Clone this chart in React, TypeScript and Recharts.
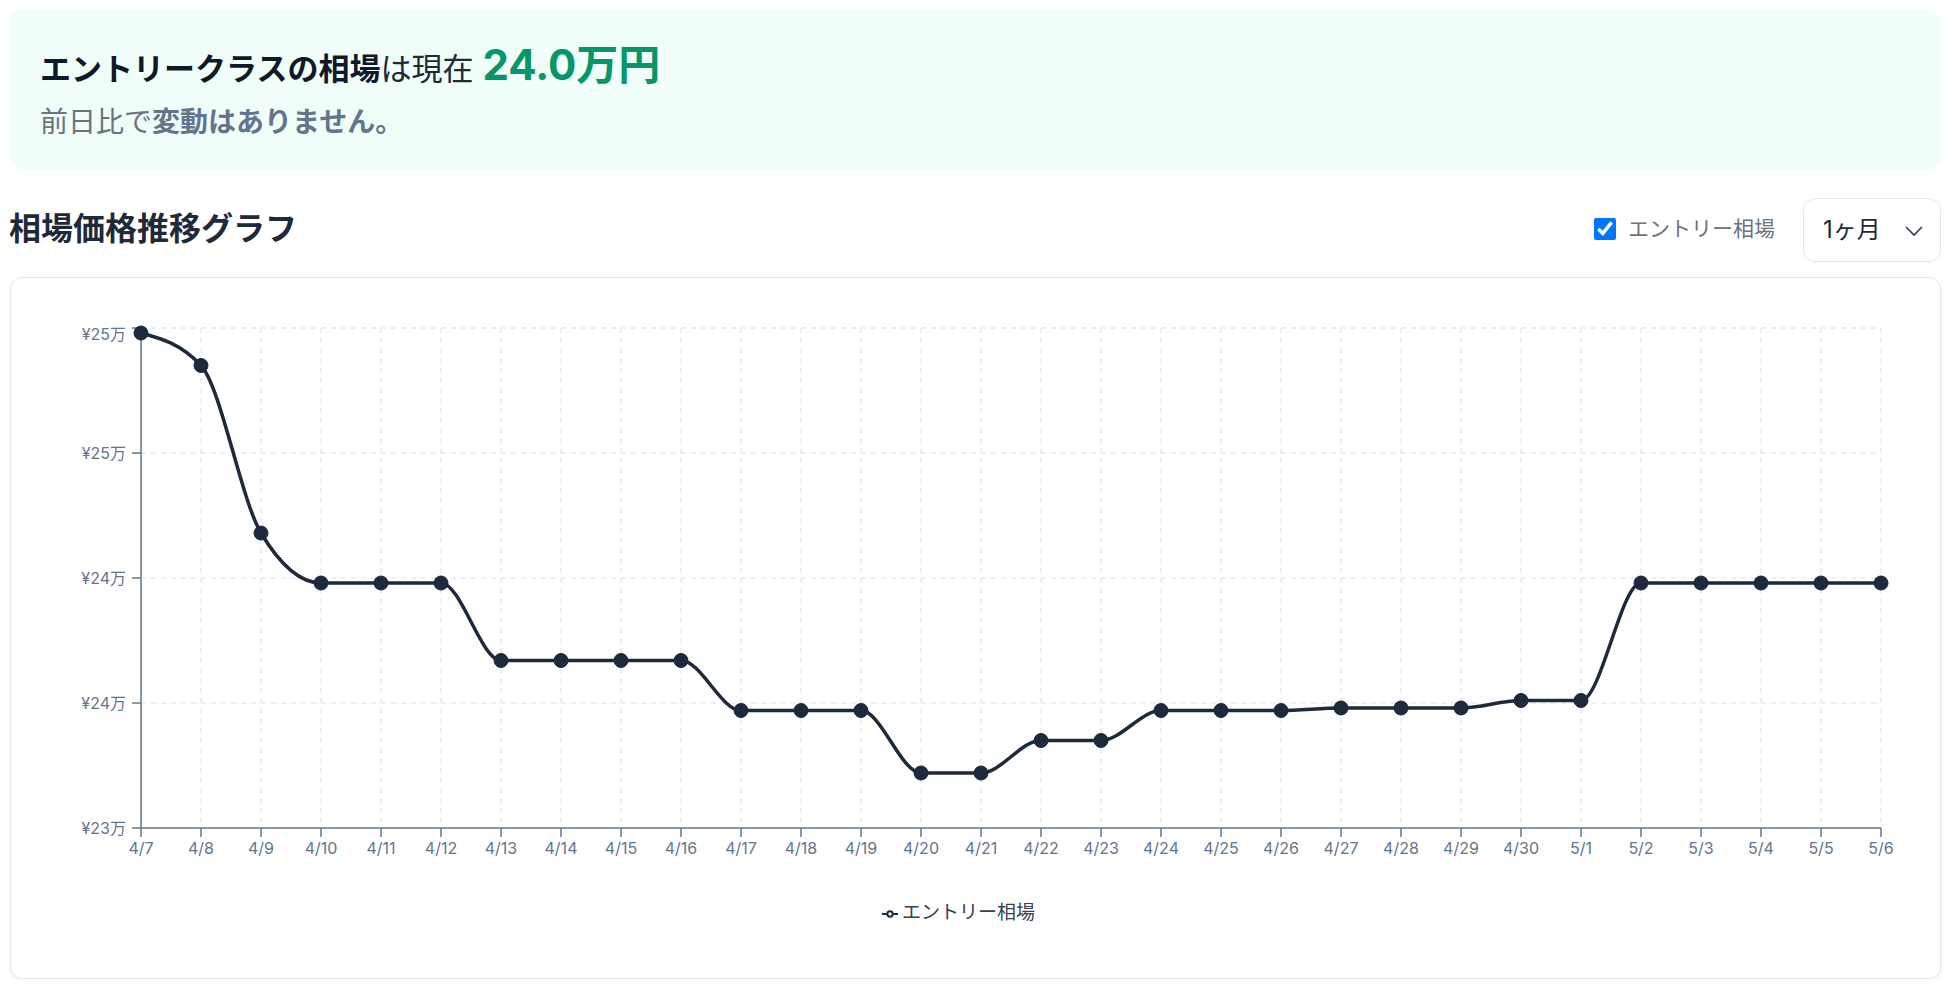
import React from "react";
import { LineChart, Line, XAxis, YAxis, CartesianGrid, Legend } from "recharts";

const dates = [
  "4/7", "4/8", "4/9", "4/10", "4/11", "4/12", "4/13", "4/14", "4/15", "4/16",
  "4/17", "4/18", "4/19", "4/20", "4/21", "4/22", "4/23", "4/24", "4/25", "4/26",
  "4/27", "4/28", "4/29", "4/30", "5/1", "5/2", "5/3", "5/4", "5/5", "5/6",
];

// エントリークラスの相場 (円)
const entryPrices = [
  249800, 248500, 241800, 239800, 239800, 239800, 236700, 236700, 236700, 236700,
  234700, 234700, 234700, 232200, 232200, 233500, 233500, 234700, 234700, 234700,
  234800, 234800, 234800, 235100, 235100, 239800, 239800, 239800, 239800, 239800,
];

const yTicks = [230000, 235000, 240000, 245000, 250000];
const seriesName = "エントリー相場";

const chartData = dates.map((date, i) => ({ date, entry: entryPrices[i] }));

const FONT = 'Inter, "Noto Sans CJK JP", sans-serif';
const AXIS = "#64748b";
const LINE = "#1e293b";

const formatYen = (v: number) => `¥${Math.round(v / 10000)}万`;

function YTick(props: any) {
  const { x, y, payload } = props;
  const isTop = payload.value === yTicks[yTicks.length - 1];
  return (
    <text
      x={x}
      y={y + (isTop ? 6 : 0)}
      dy="0.355em"
      textAnchor="end"
      fill={AXIS}
      fontSize={16}
      fontFamily={FONT}
    >
      {formatYen(payload.value)}
    </text>
  );
}

function Chevron() {
  return (
    <svg width={20} height={12} viewBox="0 0 20 12" style={{ position: "absolute", left: 100, top: 26 }}>
      <path d="M2 2 L10 10 L18 2" fill="none" stroke="#374151" strokeWidth={1.7} />
    </svg>
  );
}

export default function App() {
  const current = entryPrices[entryPrices.length - 1];

  return (
    <div style={{ position: "relative", width: 1934, height: 971, fontFamily: FONT }}>
      {/* summary banner */}
      <div
        style={{
          position: "absolute",
          left: 2,
          top: 2,
          width: 1930,
          height: 159,
          background: "#f0fdf8",
          borderRadius: 12,
        }}
      />
      <div
        style={{
          position: "absolute",
          left: 32,
          top: 32,
          lineHeight: "50px",
          whiteSpace: "nowrap",
          color: "#111827",
        }}
      >
        <span style={{ fontSize: 31, fontWeight: 700 }}>エントリークラスの相場</span>
        <span style={{ fontSize: 31, fontWeight: 400, color: "#1f2937" }}>は現在</span>
        <span style={{ fontSize: 42, fontWeight: 700, color: "#059669", marginLeft: 9 }}>
          {(current / 10000).toFixed(1)}万円
        </span>
      </div>
      <div
        style={{
          position: "absolute",
          left: 32,
          top: 95,
          lineHeight: "38px",
          fontSize: 28,
          whiteSpace: "nowrap",
        }}
      >
        <span style={{ color: "#6b7280" }}>前日比で</span>
        <span style={{ color: "#64748b", fontWeight: 700 }}>変動はありません。</span>
      </div>

      {/* heading row */}
      <div
        style={{
          position: "absolute",
          left: 1,
          top: 200,
          lineHeight: "42px",
          fontSize: 32,
          fontWeight: 700,
          color: "#1f2937",
          whiteSpace: "nowrap",
        }}
      >
        相場価格推移グラフ
      </div>
      <input
        type="checkbox"
        checked
        readOnly
        style={{ position: "absolute", left: 1586, top: 210, width: 22, height: 22, margin: 0 }}
      />
      <div
        style={{
          position: "absolute",
          left: 1620,
          top: 206,
          lineHeight: "30px",
          fontSize: 21,
          color: "#6b7280",
          whiteSpace: "nowrap",
        }}
      >
        {seriesName}
      </div>
      <div
        style={{
          position: "absolute",
          left: 1795,
          top: 190,
          width: 138,
          height: 64,
          boxSizing: "border-box",
          border: "1px solid #e2e8f0",
          borderRadius: 12,
          background: "#fff",
        }}
      >
        <div
          style={{
            position: "absolute",
            left: 19,
            top: 15,
            lineHeight: "32px",
            fontSize: 24,
            color: "#1f2937",
            whiteSpace: "nowrap",
          }}
        >
          1ヶ月
        </div>
        <Chevron />
      </div>

      {/* chart card */}
      <div
        style={{
          position: "absolute",
          left: 2,
          top: 269,
          width: 1931,
          height: 702,
          boxSizing: "border-box",
          border: "1px solid #e5e7eb",
          borderRadius: 12,
          background: "#fff",
          boxShadow: "0 1px 3px rgba(0,0,0,0.07)",
        }}
      >
        <LineChart
          width={1929}
          height={700}
          data={chartData}
          margin={{ top: 50, right: 59, left: 35, bottom: 53 }}
        >
          <CartesianGrid stroke="#d8dee6" strokeDasharray="5 5" />
          <XAxis
            dataKey="date"
            interval={0}
            height={40}
            tickSize={9}
            tickMargin={6}
            stroke={AXIS}
            axisLine={{ stroke: AXIS, strokeWidth: 1.5 }}
            tickLine={{ stroke: AXIS, strokeWidth: 1.5 }}
            tick={{ fill: AXIS, fontSize: 16, fontFamily: FONT }}
          />
          <YAxis
            domain={[230000, 250000]}
            ticks={yTicks}
            width={95}
            tickSize={9}
            tickMargin={6}
            stroke={AXIS}
            axisLine={{ stroke: AXIS, strokeWidth: 1.5 }}
            tickLine={{ stroke: AXIS, strokeWidth: 1.5 }}
            tick={YTick}
          />
          <Legend
            verticalAlign="bottom"
            iconSize={16}
            formatter={(value) => <span style={{ color: "#374151" }}>{value}</span>}
            wrapperStyle={{ paddingTop: 33, lineHeight: "24px", fontSize: 19, fontFamily: FONT }}
          />
          <Line
            type="monotone"
            dataKey="entry"
            name={seriesName}
            stroke={LINE}
            strokeWidth={3.5}
            dot={{ r: 7, fill: LINE, stroke: LINE, strokeWidth: 1 }}
            isAnimationActive={false}
          />
        </LineChart>
      </div>
    </div>
  );
}
